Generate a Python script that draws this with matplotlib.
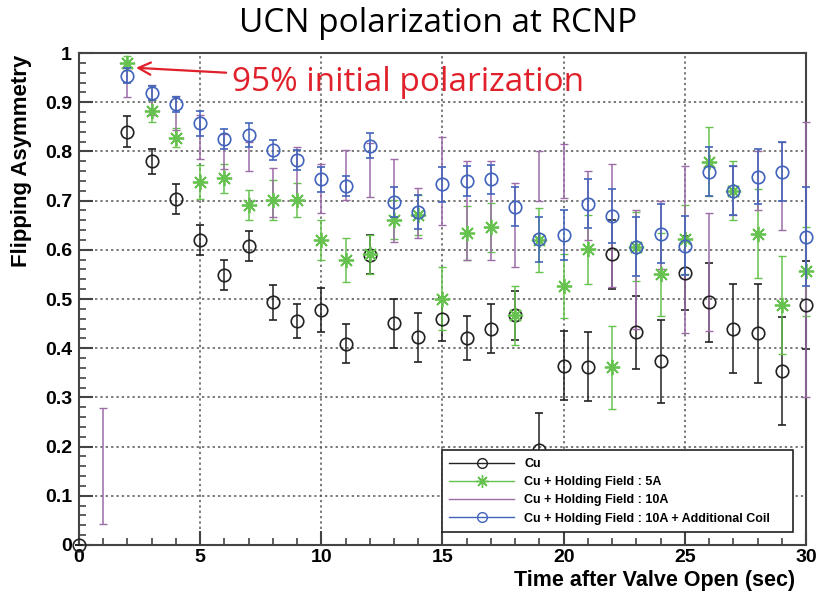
"""
UCN polarization at RCNP
flipping asymmetry vs time after valve open
"""

import matplotlib
matplotlib.use("Agg")
import matplotlib.pyplot as plt
from matplotlib.lines import Line2D
from matplotlib.ticker import MultipleLocator, FuncFormatter

# ------------------------------------------------
# data

t_cu = [0, 2, 3, 4, 5, 6, 7, 8, 9, 10, 11, 12, 13, 14, 15, 16, 17, 18, 19, 20,
        21, 22, 23, 24, 25, 26, 27, 28, 29, 30]
cu = [0.0, 0.840, 0.780, 0.703, 0.620, 0.549, 0.608, 0.493, 0.455, 0.478,
      0.409, 0.590, 0.451, 0.422, 0.459, 0.421, 0.440, 0.467, 0.193, 0.364,
      0.362, 0.591, 0.432, 0.373, 0.553, 0.493, 0.440, 0.430, 0.354, 0.488]
cu_err = [0.0, 0.032, 0.025, 0.030, 0.030, 0.030, 0.030, 0.035, 0.035, 0.045,
          0.040, 0.040, 0.050, 0.050, 0.045, 0.045, 0.050, 0.050, 0.075, 0.070,
          0.070, 0.070, 0.075, 0.085, 0.075, 0.080, 0.090, 0.100, 0.110, 0.090]

t_5a = [2, 3, 4, 5, 6, 7, 8, 9, 10, 11, 12, 13, 14, 15, 16, 17, 18, 19, 20,
        21, 22, 23, 24, 25, 26, 27, 28, 29, 30]
hf_5a = [0.980, 0.882, 0.828, 0.738, 0.745, 0.691, 0.701, 0.701, 0.620,
         0.579, 0.591, 0.661, 0.671, 0.501, 0.635, 0.646, 0.467, 0.620, 0.526,
         0.601, 0.361, 0.606, 0.550, 0.621, 0.779, 0.720, 0.633, 0.488, 0.556]
hf_5a_err = [0.015, 0.022, 0.020, 0.035, 0.030, 0.030, 0.040, 0.035, 0.040,
             0.045, 0.040, 0.040, 0.040, 0.065, 0.055, 0.050, 0.060, 0.065, 0.065,
             0.070, 0.085, 0.070, 0.085, 0.070, 0.070, 0.060, 0.090, 0.100, 0.090]

t_10a = [1, 2, 3, 4, 5, 6, 7, 8, 9, 10, 11, 12, 13, 14, 15, 16, 17, 18, 19, 20,
         21, 22, 23, 24, 25, 26, 27, 28, 29, 30]
hf_10a = [0.160, 0.940, 0.905, 0.878, 0.830, 0.800, 0.790, 0.716, 0.755, 0.724,
          0.752, 0.762, 0.700, 0.675, 0.740, 0.680, 0.680, 0.650, 0.750, 0.760,
          0.690, 0.650, 0.560, 0.630, 0.600, 0.555, 0.720, 0.740, 0.730, 0.580]
hf_10a_err = [0.118, 0.030, 0.030, 0.035, 0.045, 0.035, 0.030, 0.050, 0.055, 0.050,
              0.050, 0.055, 0.085, 0.050, 0.090, 0.100, 0.100, 0.085, 0.050, 0.055,
              0.070, 0.125, 0.120, 0.070, 0.170, 0.120, 0.050, 0.060, 0.090, 0.280]

t_coil = [2, 3, 4, 5, 6, 7, 8, 9, 10, 11, 12, 13, 14, 15, 16, 17, 18, 19, 20,
          21, 22, 23, 24, 25, 26, 27, 28, 29, 30]
coil = [0.954, 0.919, 0.896, 0.857, 0.825, 0.833, 0.803, 0.783, 0.743, 0.730,
        0.812, 0.697, 0.677, 0.733, 0.740, 0.743, 0.688, 0.621, 0.630, 0.694,
        0.669, 0.606, 0.633, 0.608, 0.759, 0.720, 0.749, 0.759, 0.627]
coil_err = [0.015, 0.015, 0.015, 0.025, 0.020, 0.025, 0.020, 0.020, 0.025, 0.020,
            0.025, 0.030, 0.035, 0.035, 0.030, 0.030, 0.040, 0.045, 0.050, 0.050,
            0.055, 0.060, 0.060, 0.060, 0.050, 0.050, 0.055, 0.060, 0.100]

labels = [
    "Cu",
    "Cu + Holding Field : 5A",
    "Cu + Holding Field : 10A",
    "Cu + Holding Field : 10A + Additional Coil",
]

# ------------------------------------------------

BLACK = "#222222"
GREEN = "#66c24e"
PURPLE = "#9c6ca8"
BLUE = "#4163bb"

plt.rcParams["font.family"] = ["Liberation Sans", "DejaVu Sans"]

fig = plt.figure(figsize=(8.17, 5.96), dpi=100)
ax = fig.add_axes([0.0967, 0.0856, 0.8898, 0.8254])

star = (8, 2, 0)

ax.errorbar(t_cu, cu, yerr=cu_err, fmt="o", mfc="none", mec=BLACK,
            ecolor=BLACK, ms=9, mew=1.2, elinewidth=1.1, capsize=3, zorder=3,
            clip_on=False)

ax.errorbar(t_5a, hf_5a, yerr=hf_5a_err, fmt="none", ecolor=GREEN,
            elinewidth=1.1, capsize=3, zorder=3, clip_on=False)
ax.plot(t_5a, hf_5a, ls="none", marker=star, ms=11, mec=GREEN, mew=1.3,
        zorder=4, clip_on=False)

ax.errorbar(t_10a, hf_10a, yerr=hf_10a_err, fmt="none", ecolor=PURPLE,
            elinewidth=1.1, capsize=3, zorder=3, clip_on=False)

ax.errorbar(t_coil, coil, yerr=coil_err, fmt="o", mfc="none", mec=BLUE,
            ecolor=BLUE, ms=9, mew=1.2, elinewidth=1.1, capsize=3, zorder=5,
            clip_on=False)

# axes

ax.set_xlim(0, 30)
ax.set_ylim(0, 1)

ax.xaxis.set_major_locator(MultipleLocator(5))
ax.xaxis.set_minor_locator(MultipleLocator(1))
ax.yaxis.set_major_locator(MultipleLocator(0.1))
ax.yaxis.set_minor_locator(MultipleLocator(0.02))
ax.yaxis.set_major_formatter(FuncFormatter(lambda v, p: f"{v:g}"))

ax.tick_params(which="both", direction="in", top=False, right=False,
               color="#444444")
ax.tick_params(which="major", length=10, width=1.5, labelsize=14, pad=5)
ax.tick_params(axis="x", which="major", pad=3)
ax.tick_params(which="minor", length=5, width=1.2)
for lab in ax.get_xticklabels() + ax.get_yticklabels():
    lab.set_fontweight("bold")

for s in ax.spines.values():
    s.set_color("#444444")
    s.set_linewidth(1.5)

ax.grid(True, which="major", ls=(0, (1.5, 2)), color="#555555", lw=1.1)
ax.set_axisbelow(True)

ax.set_xlabel("Time after Valve Open (sec)", fontsize=15.5, fontweight="bold",
              ha="right", va="top")
ax.xaxis.set_label_coords(0.985, -0.05)
ax.set_ylabel("Flipping Asymmetry", fontsize=16, fontweight="bold",
              ha="right", va="bottom")
ax.yaxis.set_label_coords(-0.064, 0.996)

# title + annotation

fig.text(0.536, 0.96, "UCN polarization at RCNP", ha="center", va="center",
         fontsize=24, family="Open Sans")

ax.annotate("95% initial polarization", xy=(2.35, 0.97), xytext=(6.3, 0.94),
            fontsize=24, family="Open Sans", color="#e0202a", va="center",
            arrowprops=dict(arrowstyle="->", color="#e0202a", lw=1.6,
                            mutation_scale=22, shrinkA=2, shrinkB=0))

# legend

handles = [
    Line2D([], [], color=BLACK, marker="o", mfc="none", ms=7, lw=1),
    Line2D([], [], color=GREEN, marker=star, ms=9, lw=1),
    Line2D([], [], color=PURPLE, lw=1),
    Line2D([], [], color=BLUE, marker="o", mfc="none", ms=7, lw=1),
]

leg = ax.legend(handles, labels, loc="lower left",
                bbox_to_anchor=(0.499, 0.026, 0.483, 0.16), mode="expand",
                borderaxespad=0, prop={"weight": "bold", "size": 9},
                handlelength=5.2, labelspacing=0.5, borderpad=0.6,
                fancybox=False, framealpha=1, edgecolor="#222222")
leg.get_frame().set_linewidth(1.2)

fig.savefig("out.png", dpi=100)
